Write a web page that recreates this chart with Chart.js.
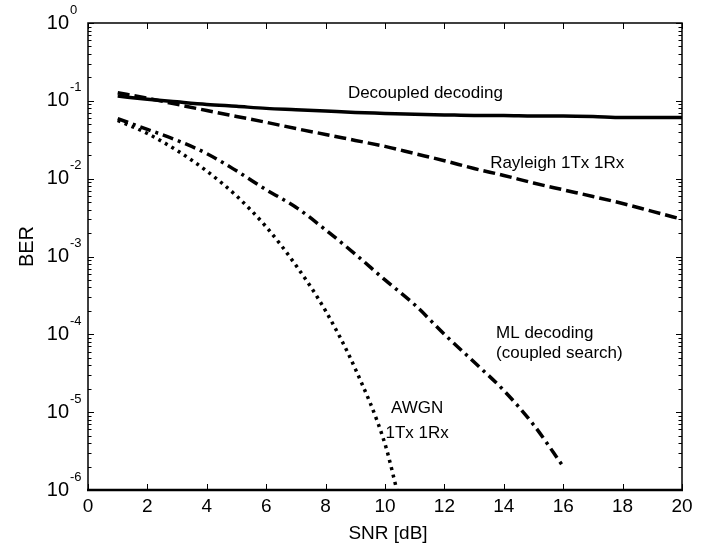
<!DOCTYPE html>
<html>
<head>
<meta charset="utf-8">
<title>BER vs SNR</title>
<script src="https://cdn.jsdelivr.net/npm/chart.js@4"></script>
<style>
  html, body { margin: 0; padding: 0; background: #fff; }
  #wrap { position: relative; width: 723px; height: 546px; }
</style>
</head>
<body>
<div id="wrap"><canvas id="berChart"></canvas></div>
<script>
// SNR points (dB)
const snrDb = [1, 2, 3, 4, 5, 6, 7, 8, 9, 10, 11, 12, 13, 14, 15, 16, 17, 18, 19, 20];

// Decoupled decoding (solid)
const decoupledBer = [0.115, 0.105, 0.097, 0.09, 0.085, 0.08, 0.077, 0.074, 0.071, 0.069,
                      0.067, 0.066, 0.065, 0.065, 0.064, 0.064, 0.063, 0.061, 0.061, 0.061];

// Rayleigh 1Tx 1Rx (dashed)
const rayleighBer = [0.127, 0.108, 0.09, 0.075, 0.063, 0.053, 0.044, 0.037, 0.031, 0.026,
                     0.021, 0.017, 0.0135, 0.011, 0.0088, 0.0072, 0.0059, 0.0048, 0.0038, 0.003];

// ML decoding, coupled search (dash-dot)
const mlSnr = [1, 2, 3, 4, 5, 6, 7, 8, 9, 10, 11, 12, 13, 14, 15, 16];
const mlBer = [0.059, 0.043, 0.031, 0.021, 0.0126, 0.0072, 0.0043, 0.0022, 0.00107, 5.0e-4,
               2.4e-4, 1.0e-4, 4.4e-5, 1.9e-5, 6.9e-6, 2.0e-6];

// AWGN 1Tx 1Rx (dotted)
const awgnSnr = [1, 2, 3, 4, 5, 6, 7, 8, 9, 10, 10.4];
const awgnBer = [0.056, 0.038, 0.023, 0.0125, 0.006, 0.0024, 7.7e-4, 2.0e-4, 3.6e-5, 3.9e-6, 1.0e-6];

// axis ticks
const xTicks = [0, 2, 4, 6, 8, 10, 12, 14, 16, 18, 20];
const yDecades = [0, -1, -2, -3, -4, -5, -6];

// in-plot text (data coords: x in dB, y in BER)
const notes = [
  { text: 'Decoupled decoding', x: 8.75, y: 0.125, align: 'left' },
  { text: 'Rayleigh 1Tx 1Rx', x: 13.54, y: 0.0158, align: 'left' },
  { text: 'ML decoding', x: 13.74, y: 1.04e-4, align: 'left' },
  { text: '(coupled search)', x: 13.74, y: 5.75e-5, align: 'left' },
  { text: 'AWGN', x: 11.08, y: 1.13e-5, align: 'center' },
  { text: '1Tx 1Rx', x: 11.08, y: 5.4e-6, align: 'center' }
];

const FONT = '"Liberation Sans", Arial, Helvetica, sans-serif';

function pts(xs, ys) {
  return xs.map((x, i) => ({ x: x, y: ys[i] }));
}

// Draws the box, inside ticks, tick labels, axis titles and notes
const decorations = {
  id: 'decorations',
  afterDraw(chart) {
    const ctx = chart.ctx;
    const xs = chart.scales.x;
    const ys = chart.scales.y;
    const a = chart.chartArea;
    ctx.save();
    ctx.strokeStyle = '#000';
    ctx.fillStyle = '#000';

    // frame
    ctx.lineWidth = 1.5;
    ctx.strokeRect(a.left, a.top, a.right - a.left, a.bottom - a.top);
    ctx.lineWidth = 2.5;
    ctx.beginPath();
    ctx.moveTo(a.left - 1, a.bottom);
    ctx.lineTo(a.right + 1, a.bottom);
    ctx.stroke();

    // x ticks
    ctx.lineWidth = 1;
    xTicks.forEach(v => {
      const px = Math.round(xs.getPixelForValue(v)) + 0.5;
      ctx.beginPath();
      ctx.moveTo(px, a.bottom);
      ctx.lineTo(px, a.bottom - 6);
      ctx.moveTo(px, a.top);
      ctx.lineTo(px, a.top + 6);
      ctx.stroke();
    });

    // y ticks, major + minor
    yDecades.forEach(d => {
      for (let m = 1; m <= 9; m++) {
        if (d === 0 && m > 1) break;
        const py = Math.round(ys.getPixelForValue(m * Math.pow(10, d))) + 0.5;
        const len = m === 1 ? 6 : 3.5;
        ctx.beginPath();
        ctx.moveTo(a.left, py);
        ctx.lineTo(a.left + len, py);
        ctx.moveTo(a.right, py);
        ctx.lineTo(a.right - len, py);
        ctx.stroke();
      }
    });

    // x tick labels
    ctx.font = '19px ' + FONT;
    ctx.textAlign = 'center';
    ctx.textBaseline = 'middle';
    xTicks.forEach(v => {
      ctx.fillText(String(v), xs.getPixelForValue(v), a.bottom + 17);
    });

    // y tick labels 10^d
    yDecades.forEach(d => {
      const py = ys.getPixelForValue(Math.pow(10, d));
      ctx.font = '20px ' + FONT;
      ctx.textAlign = 'right';
      ctx.textBaseline = 'middle';
      ctx.fillText('10', a.left - 19, py);
      ctx.font = '13px ' + FONT;
      ctx.textAlign = 'left';
      ctx.fillText(String(d), a.left - 18, py - 13);
    });

    // axis titles
    ctx.font = '19px ' + FONT;
    ctx.textAlign = 'center';
    ctx.textBaseline = 'middle';
    ctx.fillText('SNR [dB]', (a.left + a.right) / 2 + 3, a.bottom + 44);
    ctx.save();
    ctx.translate(a.left - 61, (a.top + a.bottom) / 2 - 10);
    ctx.rotate(-Math.PI / 2);
    ctx.font = '20px ' + FONT;
    ctx.fillText('BER', 0, 0);
    ctx.restore();

    // notes
    ctx.font = '17px ' + FONT;
    ctx.textBaseline = 'middle';
    notes.forEach(n => {
      ctx.textAlign = n.align;
      ctx.fillText(n.text, xs.getPixelForValue(n.x), ys.getPixelForValue(n.y));
    });

    ctx.restore();
  }
};

document.addEventListener('DOMContentLoaded', () => {
  const ctx = document.getElementById('berChart').getContext('2d');
  new Chart(ctx, {
    type: 'line',
    data: {
      datasets: [
        { label: 'Decoupled decoding', data: pts(snrDb, decoupledBer),
          borderColor: '#000', borderWidth: 3.5, pointRadius: 0, cubicInterpolationMode: 'monotone' },
        { label: 'Rayleigh 1Tx 1Rx', data: pts(snrDb, rayleighBer),
          borderColor: '#000', borderWidth: 3.5, borderDash: [12, 5], pointRadius: 0, cubicInterpolationMode: 'monotone' },
        { label: 'ML decoding (coupled search)', data: pts(mlSnr, mlBer),
          borderColor: '#000', borderWidth: 3.5, borderDash: [11, 5, 3, 5], pointRadius: 0, cubicInterpolationMode: 'monotone' },
        { label: 'AWGN 1Tx 1Rx', data: pts(awgnSnr, awgnBer),
          borderColor: '#000', borderWidth: 3.5, borderDash: [3, 4.5], pointRadius: 0, cubicInterpolationMode: 'monotone' }
      ]
    },
    options: {
      responsive: true,
      maintainAspectRatio: false,
      animation: false,
      layout: { padding: { left: 88, top: 23, right: 41, bottom: 56 } },
      plugins: {
        legend: { display: false },
        tooltip: { enabled: false }
      },
      scales: {
        x: { type: 'linear', min: 0, max: 20, display: false },
        y: { type: 'logarithmic', min: 1e-6, max: 1, display: false }
      }
    },
    plugins: [decorations]
  });
});
</script>
</body>
</html>
